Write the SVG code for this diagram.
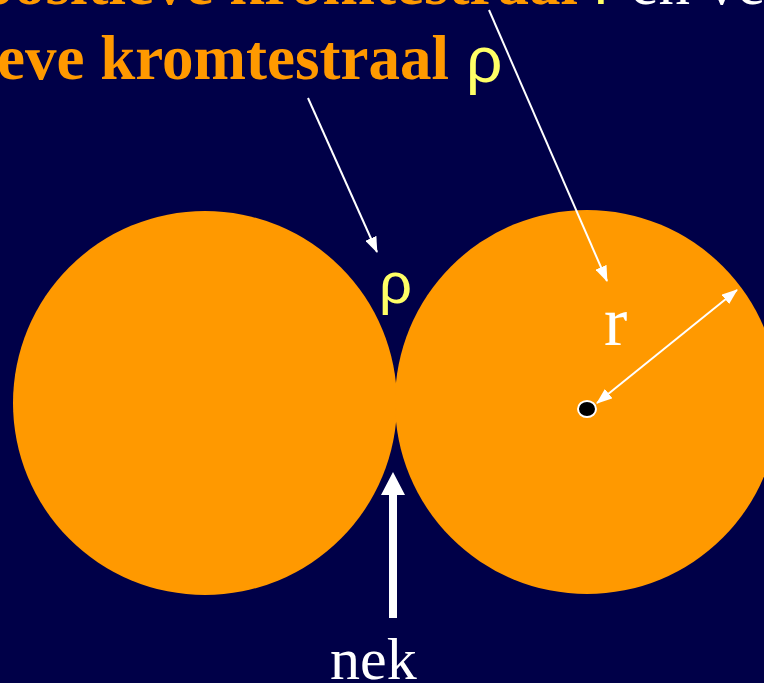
<svg xmlns="http://www.w3.org/2000/svg" width="764" height="683" viewBox="0 0 764 683">
<defs>
<style>
.title{font-family:"Liberation Serif","Times New Roman",serif;font-weight:bold;font-size:63px;fill:#FF9900}
.sym{font-family:"Liberation Sans","DejaVu Sans",sans-serif;fill:#FFFF66}
.lbl{font-family:"Liberation Serif","Times New Roman",serif;fill:#FFFFFF}
.thin{stroke:#FFFFFF;stroke-width:2;fill:none}
</style>
<marker id="ah" viewBox="0 0 16 12" refX="15" refY="6" markerWidth="16" markerHeight="12" orient="auto-start-reverse" markerUnits="userSpaceOnUse">
<path d="M0,0 L16,6 L0,12 z" fill="#FFFFFF"/>
</marker>
</defs>
<rect x="0" y="0" width="764" height="683" fill="#000048"/>
<g id="title">
<text class="title" x="-21" y="4">positieve kromtestraal <tspan class="sym" style="font-weight:normal">r</tspan><tspan class="lbl" style="font-weight:normal"> en ve</tspan></text>
<text class="title" x="449" y="79" text-anchor="end">negatieve kromtestraal</text>
<text class="sym" x="466" y="82" font-size="64">ρ</text>
</g>
<g id="particle-left"><circle cx="205" cy="403" r="192" fill="#FF9900"/></g>
<g id="particle-right"><circle cx="587" cy="402" r="192" fill="#FF9900"/>
<ellipse cx="587" cy="409" rx="9" ry="8" fill="#000000" stroke="#FFFFFF" stroke-width="2"/></g>
<g id="labels">
<text class="sym" x="379" y="303" font-size="58">ρ</text>
<text class="lbl" x="604" y="345" font-size="70">r</text>
<text class="lbl" x="330" y="679" font-size="60">nek</text>
</g>
<g id="connectors">
<line class="thin" x1="489" y1="10" x2="607" y2="281" marker-end="url(#ah)"/>
<line class="thin" x1="308" y1="98" x2="377" y2="252" marker-end="url(#ah)"/>
<line class="thin" x1="597" y1="403" x2="737" y2="290" marker-start="url(#ah)" marker-end="url(#ah)"/>
<path d="M389,618 L389,495 L381,495 L393,472 L405,495 L397,495 L397,618 z" fill="#FFFFFF"/>
</g>
</svg>
